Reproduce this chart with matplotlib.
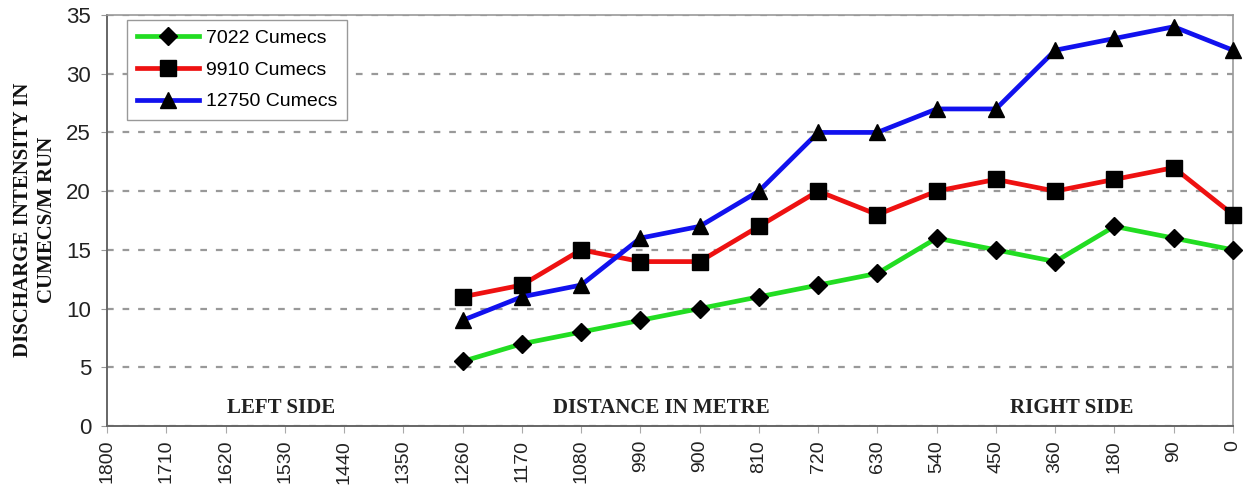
import matplotlib
matplotlib.use("Agg")
import matplotlib.pyplot as plt

categories = ["1800", "1710", "1620", "1530", "1440", "1350", "1260", "1170", "1080",
              "990", "900", "810", "720", "630", "540", "450", "360", "180", "90", "0"]
data_categories = categories[6:]
q7022 = [5.5, 7, 8, 9, 10, 11, 12, 13, 16, 15, 14, 17, 16, 15]
q9910 = [11, 12, 15, 14, 14, 17, 20, 18, 20, 21, 20, 21, 22, 18]
q12750 = [9, 11, 12, 16, 17, 20, 25, 25, 27, 27, 32, 33, 34, 32]
series_labels = ["7022 Cumecs", "9910 Cumecs", "12750 Cumecs"]

fig = plt.figure(figsize=(12.47, 4.93), dpi=100)
ax = fig.add_axes([107 / 1247, 1 - 426 / 493, 1126 / 1247, 411 / 493])

pos = {c: i for i, c in enumerate(categories)}
xs = [pos[c] for c in data_categories]

ax.plot(xs, q7022, color="#22dd22", lw=3.4, marker="D", ms=9.5, mfc="black", mec="black",
        label=series_labels[0], zorder=3, clip_on=False)
ax.plot(xs, q9910, color="#ee1111", lw=3.4, marker="s", ms=12, mfc="black", mec="black",
        label=series_labels[1], zorder=3, clip_on=False)
ax.plot(xs, q12750, color="#1111ee", lw=3.4, marker="^", ms=11.5, mfc="black", mec="black",
        label=series_labels[2], zorder=3, clip_on=False)

ax.set_xlim(0, len(categories) - 1)
ax.set_ylim(0, 35)
ax.set_xticks(range(len(categories)))
ax.set_xticklabels(categories, rotation=90, fontsize=14, family="Liberation Sans", color="#222222")
ax.set_yticks(range(0, 36, 5))
ax.tick_params(axis="y", labelsize=16, colors="#222222", length=4.5, color="#999999", pad=7)
ax.tick_params(axis="x", length=5, color="#aaaaaa", pad=5)
for lab in ax.get_yticklabels():
    lab.set_family("Liberation Sans")

ax.yaxis.grid(True, linestyle=(0, (3, 4)), color="#999999", lw=1.6)
ax.set_axisbelow(True)
for s in ["left", "bottom"]:
    ax.spines[s].set_color("#666666")
    ax.spines[s].set_linewidth(1.4)
for s in ["top", "right"]:
    ax.spines[s].set_color("#999999")
    ax.spines[s].set_linewidth(1.2)

fig.text(35 / 1247, 1 - 220 / 493, "DISCHARGE INTENSITY IN\nCUMECS/M RUN", family="Liberation Serif",
         fontweight="bold", fontsize=15, rotation=90, ha="center", va="center",
         multialignment="center", linespacing=1.25, color="#111111")

for xpos, txt in [(2.93, "LEFT SIDE"), (9.36, "DISTANCE IN METRE"), (16.27, "RIGHT SIDE")]:
    ax.text(xpos, 1.5, txt, family="Liberation Serif", fontweight="bold", fontsize=15,
            ha="center", va="center", color="#222222")

leg = ax.legend(loc="upper left", bbox_to_anchor=(0.018, 0.988), prop={"family": "Liberation Sans", "size": 14},
                frameon=True, fancybox=False, edgecolor="#999999", framealpha=1,
                handlelength=3.2, borderpad=0.5, labelspacing=0.72, handletextpad=0.35,
                borderaxespad=0.0)
leg.get_frame().set_linewidth(1.0)

fig.savefig("out.png", dpi=100)
